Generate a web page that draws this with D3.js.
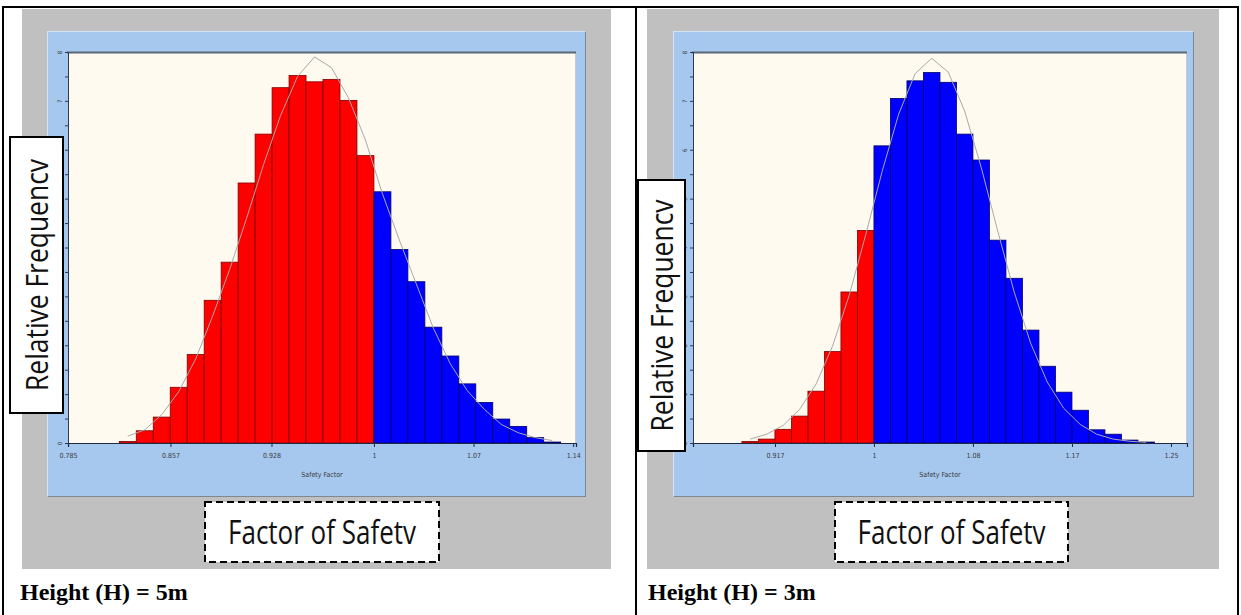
<!DOCTYPE html>
<html>
<head>
<meta charset="utf-8">
<script src="https://cdn.jsdelivr.net/npm/d3@7"></script>
<style>
  body { margin: 0; background: #ffffff; }
  svg { display: block; }
</style>
</head>
<body>
<svg id="page" width="1241" height="615"></svg>
<script>
// ---- Height 5 m : safety-factor histogram ----
const h5BinEdges = [0.82105, 0.83298, 0.84491, 0.85684, 0.86877, 0.8807, 0.89263, 0.90456, 0.91649,
  0.92842, 0.94035, 0.95228, 0.96421, 0.97614, 0.98807, 1.0, 1.01193, 1.02386, 1.03579, 1.04772,
  1.05965, 1.07158, 1.08351, 1.09544, 1.10737, 1.1193, 1.13123];
const h5Density = [0.03, 0.25, 0.53, 1.14, 1.81, 2.92, 3.70, 5.32, 6.32, 7.27, 7.52, 7.39, 7.44,
  7.01, 5.88, 5.14, 3.96, 3.30, 2.37, 1.78, 1.21, 0.83, 0.49, 0.34, 0.11, 0.02];
const h5Fit = [0.14, 0.27, 0.58, 1.05, 1.72, 2.60, 3.55, 4.60, 5.70, 6.70, 7.50, 7.90, 7.68,
  7.06, 6.20, 5.10, 4.15, 3.25, 2.35, 1.62, 1.07, 0.69, 0.38, 0.21, 0.11, 0.05];
const h5Domain = [0.785, 1.142];
const h5Ticks = [0.785, 0.857, 0.928, 1, 1.07, 1.14];
const h5TickLabels = ["0.785", "0.857", "0.928", "1", "1.07", "1.14"];

// ---- Height 3 m : safety-factor histogram ----
const h3BinEdges = [0.88888, 0.90277, 0.91666, 0.93055, 0.94444, 0.95833, 0.97222, 0.98611, 1.0,
  1.01389, 1.02778, 1.04167, 1.05556, 1.06944, 1.08333, 1.09722, 1.11111, 1.125, 1.13889,
  1.15278, 1.16667, 1.18056, 1.19444, 1.20833, 1.22222, 1.23611];
const h3Density = [0.03, 0.08, 0.28, 0.55, 1.06, 1.87, 3.09, 4.35, 6.08, 7.05, 7.41, 7.58, 7.38,
  6.32, 5.79, 4.15, 3.37, 2.31, 1.57, 1.04, 0.67, 0.27, 0.18, 0.06, 0.02];
const h3Fit = [0.08, 0.18, 0.36, 0.69, 1.21, 1.99, 3.02, 4.26, 5.56, 6.73, 7.56, 7.87, 7.59,
  6.79, 5.64, 4.34, 3.09, 2.04, 1.25, 0.71, 0.38, 0.18, 0.08, 0.035, 0.014];
const h3Domain = [0.8477, 1.2635];
const h3Ticks = [0.9167, 1, 1.0833, 1.1667, 1.25];
const h3TickLabels = ["0.917", "1", "1.08", "1.17", "1.25"];

// ---- shared ----
const freqDomain = [0, 8];
const freqMajorTicks = [0, 1, 2, 3, 4, 5, 6, 7, 8];
const freqMinorTicks = [0.5, 1.5, 2.5, 3.5, 4.5, 5.5, 6.5, 7.5];
const failureLimit = 1;      // bins below FS = 1 are drawn red
const xAxisTitle = "Safety Factor";
const yBoxLabel = "Relative Frequencv";
const xBoxLabel = "Factor of Safetv";
const captions = ["Height (H) = 5m", "Height (H) = 3m"];

const svg = d3.select("#page");

// table rules
const ruleG = svg.append("g").attr("stroke", "#000").attr("stroke-width", 2);
ruleG.append("line").attr("x1", 2).attr("x2", 1239).attr("y1", 7).attr("y2", 7);
[3, 636, 1238].forEach(x =>
  ruleG.append("line").attr("x1", x).attr("x2", x).attr("y1", 6).attr("y2", 615));

const panels = [
  { edges: h5BinEdges, dens: h5Density, fit: h5Fit, domain: h5Domain, ticks: h5Ticks, labels: h5TickLabels,
    grey: [22, 9, 589, 560], win: [47, 31, 538, 465], plot: [68, 52, 508, 391],
    relBox: [10, 137, 53, 276], fosBox: [205, 502, 234, 60], caption: [20, 600], caption_i: 0 },
  { edges: h3BinEdges, dens: h3Density, fit: h3Fit, domain: h3Domain, ticks: h3Ticks, labels: h3TickLabels,
    grey: [647, 9, 572, 560], win: [673, 31, 520, 465], plot: [693, 52, 494, 391],
    relBox: [638, 180, 47, 271], fosBox: [835, 502, 233, 60], caption: [648, 600], caption_i: 1 }
];

// scale factor that makes a text element span the given length
function fitLength(sel, len) {
  const w = sel.node().getComputedTextLength();
  return len / w;
}

panels.forEach(p => {
  const g = svg.append("g");
  const [gx, gy, gw, gh] = p.grey;
  g.append("rect").attr("x", gx).attr("y", gy).attr("width", gw).attr("height", gh).attr("fill", "#c0c0c0");

  // chart window with bevel
  const [wx, wy, ww, wh] = p.win;
  g.append("rect").attr("x", wx + 1).attr("y", wy + 1).attr("width", ww).attr("height", wh).attr("fill", "#7d8894");
  g.append("rect").attr("x", wx).attr("y", wy).attr("width", ww).attr("height", wh).attr("fill", "#a6c8ee");
  g.append("line").attr("x1", wx).attr("x2", wx + ww).attr("y1", wy + 0.5).attr("y2", wy + 0.5)
    .attr("stroke", "#d4e4f7").attr("stroke-width", 1);
  g.append("line").attr("x1", wx + 0.5).attr("x2", wx + 0.5).attr("y1", wy).attr("y2", wy + wh)
    .attr("stroke", "#d4e4f7").attr("stroke-width", 1);

  // plot area
  const [px, py, pw, ph] = p.plot;
  g.append("rect").attr("x", px).attr("y", py).attr("width", pw).attr("height", ph).attr("fill", "#fffaef");
  g.append("line").attr("x1", px + pw - 0.5).attr("x2", px + pw - 0.5).attr("y1", py).attr("y2", py + ph)
    .attr("stroke", "#c3ccd6").attr("stroke-width", 1);

  const x = d3.scaleLinear().domain(p.domain).range([px, px + pw]);
  const y = d3.scaleLinear().domain(freqDomain).range([py + ph, py]);

  // histogram bars
  const bins = p.dens.map((v, i) => ({ x0: p.edges[i], x1: p.edges[i + 1], v }));
  g.append("g").selectAll("rect").data(bins).join("rect")
    .attr("x", d => x(d.x0))
    .attr("y", d => y(d.v))
    .attr("width", d => x(d.x1) - x(d.x0))
    .attr("height", d => y(0) - y(d.v))
    .attr("fill", d => d.x1 <= failureLimit + 1e-9 ? "#ff0000" : "#0000ff")
    .attr("stroke", d => d.x1 <= failureLimit + 1e-9 ? "#7a0000" : "#000066")
    .attr("stroke-width", 0.8);

  // fitted distribution through bin centres
  const fitPts = p.fit.map((v, i) => [(p.edges[i] + p.edges[i + 1]) / 2, v]);
  g.append("path").datum(fitPts)
    .attr("fill", "none").attr("stroke", "#a9a9a9").attr("stroke-width", 1)
    .attr("d", d3.line().x(d => x(d[0])).y(d => y(d[1])));

  // top frame
  g.append("line").attr("x1", px - 1).attr("x2", px + pw).attr("y1", py + 0.5).attr("y2", py + 0.5)
    .attr("stroke", "#5b6677").attr("stroke-width", 2);

  // y axis
  const yAxis = g.append("g").attr("transform", `translate(${px},0)`)
    .attr("color", "#2a3a58")
    .call(d3.axisLeft(y).tickValues(freqMajorTicks).tickSize(3).tickFormat(d3.format("d")));
  yAxis.selectAll("text")
    .attr("x", 0).attr("dy", 0).attr("text-anchor", "middle")
    .attr("transform", "translate(-6,0) rotate(-90)")
    .attr("font-size", 6).attr("fill", "#3a3a3a")
    .attr("font-family", "'Liberation Sans Narrow', 'DejaVu Sans Condensed', sans-serif");
  g.append("g").attr("transform", `translate(${px},0)`).attr("color", "#2a3a58")
    .call(d3.axisLeft(y).tickValues(freqMinorTicks).tickSize(3).tickFormat(""))
    .select(".domain").remove();

  // x axis
  const xAxis = g.append("g").attr("transform", `translate(0,${py + ph})`)
    .attr("color", "#1e2a44")
    .call(d3.axisBottom(x).tickValues(p.ticks).tickSize(4).tickPadding(6)
      .tickFormat((d, i) => p.labels[i]));
  xAxis.select(".domain").attr("stroke-width", 1.2);
  xAxis.selectAll("text").attr("font-size", 7).attr("fill", "#3a3a3a")
    .attr("font-family", "'Liberation Sans Narrow', 'DejaVu Sans Condensed', sans-serif");

  g.append("text").attr("x", px + pw / 2).attr("y", py + ph + 34)
    .attr("text-anchor", "middle").attr("font-size", 7).attr("fill", "#3a3a3a")
    .attr("font-family", "'Liberation Sans Narrow', 'DejaVu Sans Condensed', sans-serif")
    .text(xAxisTitle);

  // "Relative Frequency" call-out box
  const [rx, ry, rw, rh] = p.relBox;
  g.append("rect").attr("x", rx).attr("y", ry).attr("width", rw).attr("height", rh)
    .attr("fill", "#fff").attr("stroke", "#000").attr("stroke-width", 2);
  const rt = g.append("text").attr("font-family", "'Open Sans', sans-serif").attr("font-size", 31)
    .attr("text-anchor", "middle").attr("fill", "#111").text(yBoxLabel);
  const rs = fitLength(rt, 232);
  rt.attr("transform", `translate(${rx + rw / 2 + 11},${ry + rh / 2}) rotate(-90) scale(${rs},1)`);

  // "Factor of Safety" dashed call-out box
  const [fx, fy, fw, fh] = p.fosBox;
  g.append("rect").attr("x", fx).attr("y", fy).attr("width", fw).attr("height", fh)
    .attr("fill", "#fff").attr("stroke", "#000").attr("stroke-width", 2).attr("stroke-dasharray", "7,4");
  const ft = g.append("text").attr("font-family", "'Open Sans', sans-serif").attr("font-size", 32)
    .attr("text-anchor", "middle").attr("fill", "#111").text(xBoxLabel);
  const fs = fitLength(ft, 188);
  ft.attr("transform", `translate(${fx + fw / 2},${fy + fh / 2 + 12}) scale(${fs},1)`);

  // caption
  svg.append("text").attr("x", p.caption[0]).attr("y", p.caption[1])
    .attr("font-family", "'Liberation Serif', serif").attr("font-weight", "bold").attr("font-size", 24)
    .attr("fill", "#000").text(captions[p.caption_i]);
});
</script>
</body>
</html>
